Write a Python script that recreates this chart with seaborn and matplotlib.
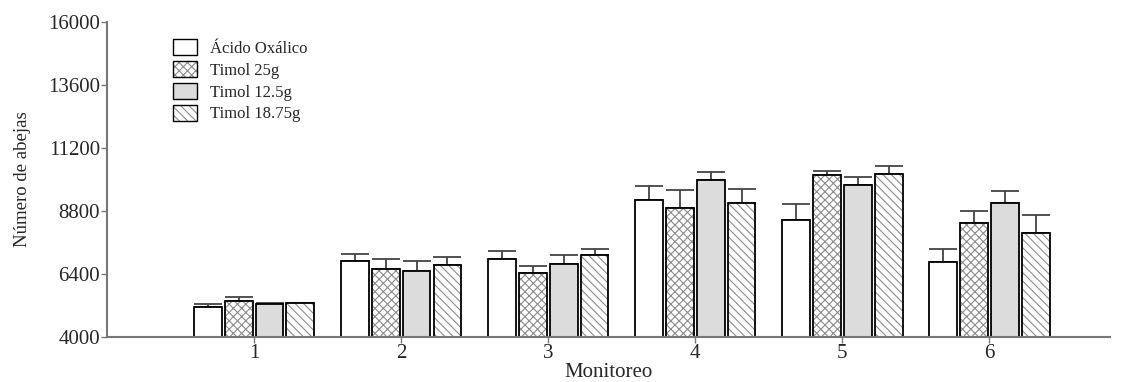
import matplotlib
matplotlib.use("Agg")
import matplotlib.pyplot as plt
import matplotlib.colors as mcolors
import seaborn as sns
import pandas as pd
import numpy as np

monitoreo = ["1", "2", "3", "4", "5", "6"]
tratamientos = ["Ácido Oxálico", "Timol 25g", "Timol 12.5g", "Timol 18.75g"]

acido_oxalico = [5130, 6910, 6960, 9220, 8460, 6850]
timol_25 = [5360, 6600, 6430, 8930, 10160, 8340]
timol_125 = [5260, 6530, 6770, 9980, 9780, 9100]
timol_1875 = [5280, 6730, 7110, 9100, 10200, 7970]

err_acido = [115, 270, 330, 530, 620, 520]
err_t25 = [150, 360, 280, 670, 150, 445]
err_t125 = [20, 360, 360, 290, 330, 470]
err_t1875 = [20, 330, 250, 545, 300, 660]

yticks = [4000, 6400, 8800, 11200, 13600, 16000]

values = [acido_oxalico, timol_25, timol_125, timol_1875]
errors = [err_acido, err_t25, err_t125, err_t1875]

rows = []
for t, vals in zip(tratamientos, values):
    for m, v in zip(monitoreo, vals):
        rows.append({"Monitoreo": m, "Tratamiento": t, "Valor": v})
df = pd.DataFrame(rows)

sns.set_style("white")
plt.rcParams["font.family"] = ["Liberation Serif", "DejaVu Serif"]
plt.rcParams["hatch.linewidth"] = 0.8

fig = plt.figure(figsize=(11.24, 3.82), dpi=100)
ax = fig.add_axes([107 / 1124, 1 - 337 / 382, (1110 - 107) / 1124, (337 - 22) / 382])

palette = {"Ácido Oxálico": "white", "Timol 25g": "white",
           "Timol 12.5g": "#dcdcdc", "Timol 18.75g": "white"}
sns.barplot(data=df, x="Monitoreo", y="Valor", hue="Tratamiento",
            hue_order=tratamientos, order=monitoreo, palette=palette,
            width=0.84, gap=0.1, errorbar=None, edgecolor="black",
            linewidth=1.3, ax=ax, legend=True)

hatches = ["", "xxxx", "", "\\\\\\\\"]
hatch_col = mcolors.to_rgba("#8c8c8c")
for cont, h, err in zip(ax.containers, hatches, errors):
    xs, tops = [], []
    for bar in cont:
        if h:
            bar.set_hatch(h)
            bar._hatch_color = hatch_col
        bar.set_zorder(2)
        xs.append(bar.get_x() + bar.get_width() / 2)
        tops.append(bar.get_height())
    ax.errorbar(xs, tops, yerr=[np.zeros(len(err)), err], fmt="none",
                ecolor="#444444", elinewidth=1.3, capsize=10, capthick=1.3,
                zorder=1)

leg = ax.get_legend()
handles = leg.legend_handles
for hdl, h in zip(handles, hatches):
    hdl.set_edgecolor("black")
    hdl.set_linewidth(1.0)
    if h:
        hdl.set_hatch(h)
        hdl._hatch_color = hatch_col
leg.remove()
ax.legend(handles, tratamientos, loc="upper left", bbox_to_anchor=(0.066, 0.945),
          frameon=False, fontsize=12, handlelength=1.4, handleheight=1.1,
          labelspacing=0.25, handletextpad=0.8, borderaxespad=0, borderpad=0)

ax.set_ylim(4000, 16000)
ax.set_xlim(-1, 5.82)
ax.set_yticks(yticks)
ax.set_yticklabels([str(t) for t in yticks])
ax.set_xlabel("Monitoreo", fontsize=15, labelpad=0)
ax.set_ylabel("Número de abejas", fontsize=13.5, labelpad=12)
ax.tick_params(axis="both", labelsize=15, length=4, width=1, color="#777777",
               direction="out", pad=1, bottom=True, left=True)
for s in ["top", "right"]:
    ax.spines[s].set_visible(False)
for s in ["left", "bottom"]:
    ax.spines[s].set_color("#777777")
    ax.spines[s].set_linewidth(1.5)

fig.savefig("out.png", dpi=100)
